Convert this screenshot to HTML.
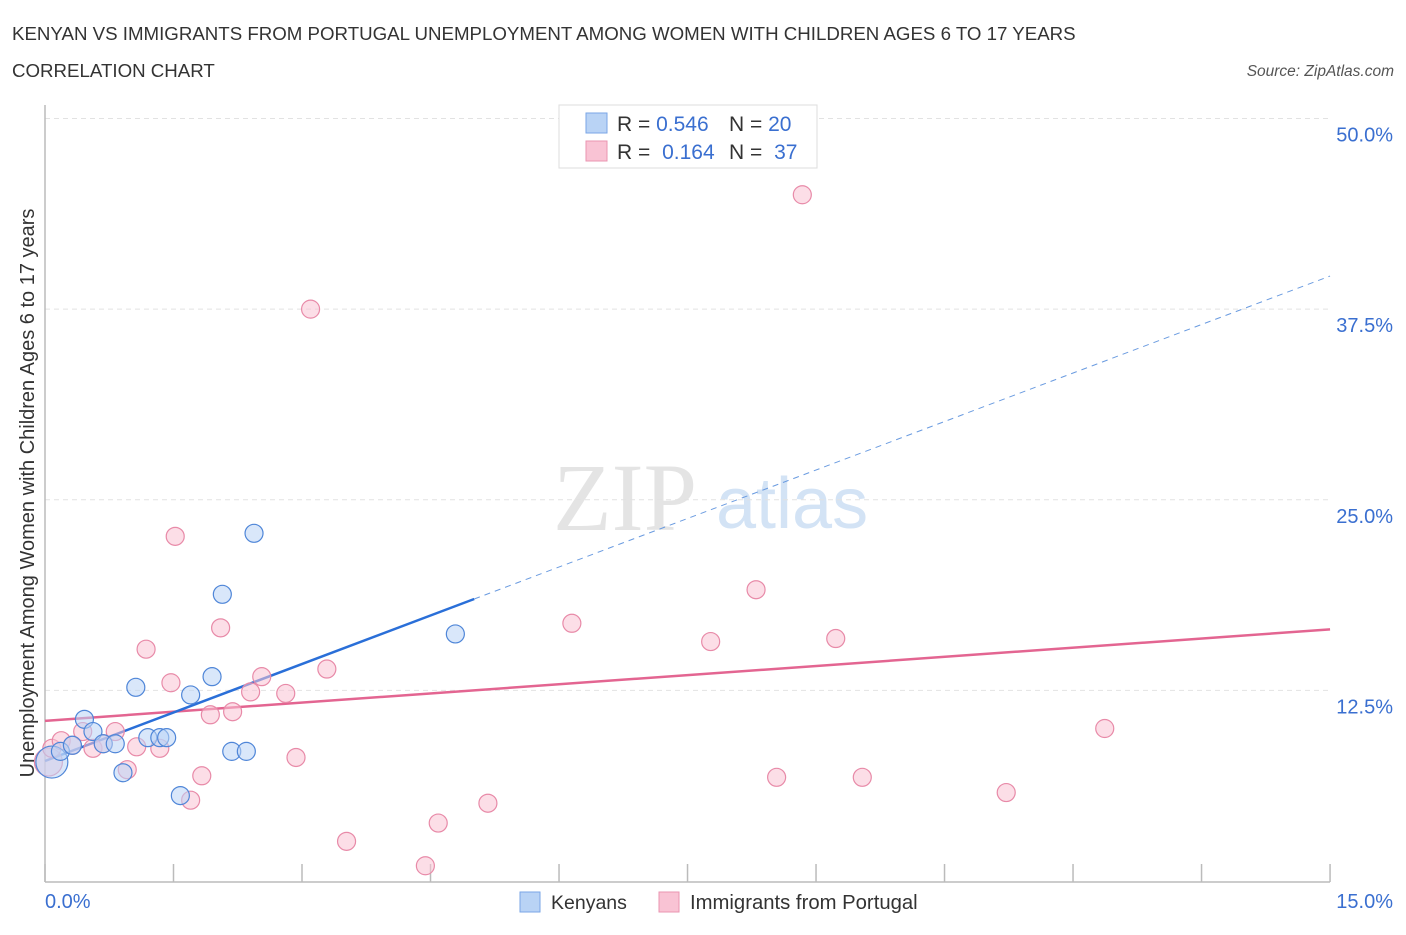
<!DOCTYPE html>
<html><head><meta charset="utf-8"><style>
body{margin:0;background:#fff;font-family:"Liberation Sans",sans-serif;}
svg text{font-family:"Liberation Sans",sans-serif;}
</style></head><body>
<svg id="chart" width="1406" height="930" xmlns="http://www.w3.org/2000/svg">
<text x="12" y="40" font-size="18.7" fill="#333">KENYAN VS IMMIGRANTS FROM PORTUGAL UNEMPLOYMENT AMONG WOMEN WITH CHILDREN AGES 6 TO 17 YEARS</text>
<text x="12" y="77" font-size="18.7" fill="#333">CORRELATION CHART</text>
<text x="1394" y="76" font-size="15.5" fill="#555" font-style="italic" text-anchor="end">Source: ZipAtlas.com</text>
<g>
<text x="553" y="530" font-size="96" fill="#e4e4e4" font-family="Liberation Serif" style="font-family:'Liberation Serif',serif">ZIP</text>
<text x="716" y="528" font-size="72" fill="#d3e3f5">atlas</text>
</g>
<g id="grid"></g>
<g id="axes"></g>
<g id="trends"></g>
<g id="points"></g>
<text transform="translate(34,493) rotate(-90)" font-size="20" fill="#333" text-anchor="middle">Unemployment Among Women with Children Ages 6 to 17 years</text>
<g>
<rect x="559" y="105" width="258" height="63" fill="#fff" stroke="#ddd"/>
<rect x="586" y="113" width="21" height="20" fill="#b9d3f5" stroke="#7aa6e6"/>
<rect x="586" y="141" width="21" height="20" fill="#f9c3d4" stroke="#ea95b1"/>
<text x="617" y="131" font-size="21" fill="#333">R = <tspan fill="#3a6fd0">0.546</tspan></text>
<text x="729" y="131" font-size="21" fill="#333">N = <tspan fill="#3a6fd0">20</tspan></text>
<text x="617" y="159" font-size="21" fill="#333">R = <tspan fill="#3a6fd0" dx="6">0.164</tspan></text>
<text x="729" y="159" font-size="21" fill="#333">N = <tspan fill="#3a6fd0" dx="6">37</tspan></text>
</g>
<g>
<rect x="520" y="892" width="20" height="20" fill="#b9d3f5" stroke="#7aa6e6"/>
<text x="551" y="909" font-size="19.5" fill="#333">Kenyans</text>
<rect x="659" y="892" width="20" height="20" fill="#f9c3d4" stroke="#ea95b1"/>
<text x="690" y="909" font-size="20.3" fill="#333">Immigrants from Portugal</text>
</g>
</svg>
<script>
const yTicks=[12.5,25,37.5,50];
const yTickLabels=["12.5%","25.0%","37.5%","50.0%"];
const xTicks=[0,1.5,3,4.5,6,7.5,9,10.5,12,13.5,15];
const kenX=[0.08,0.18,0.32,0.46,0.56,0.68,0.82,0.91,1.06,1.20,1.34,1.42,1.58,1.70,1.95,2.07,2.18,2.35,2.44,4.79];
const kenY=[7.8,8.5,8.9,10.6,9.8,9.0,9.0,7.1,12.7,9.4,9.4,9.4,5.6,12.2,13.4,18.8,8.5,8.5,22.8,16.2];
const porX=[0.04,0.08,0.19,0.32,0.44,0.56,0.68,0.82,0.96,1.07,1.18,1.34,1.47,1.52,1.70,1.83,1.93,2.05,2.19,2.40,2.53,2.81,2.93,3.10,3.29,3.52,4.44,4.59,5.17,6.15,7.77,8.30,8.54,8.84,9.23,9.54,11.22,12.37];
const porY=[7.8,8.7,9.2,8.9,9.8,8.7,9.0,9.8,7.3,8.8,15.2,8.7,13.0,22.6,5.3,6.9,10.9,16.6,11.1,12.4,13.4,12.3,8.1,37.5,13.9,2.6,1.0,3.8,5.1,16.9,15.7,19.1,6.8,45.0,15.9,6.8,5.8,10.0];
const kenTrend=[7.87,2.12];
const porTrend=[10.5,0.4];
const kenSolidEnd=5.01;
const NS="http://www.w3.org/2000/svg";
const X=v=>45+v*85.67, Y=v=>881-v*15.25;
function mk(tag,attrs,parent){const e=document.createElementNS(NS,tag);for(const k in attrs)e.setAttribute(k,attrs[k]);document.getElementById(parent).appendChild(e);return e;}
yTicks.forEach((t,i)=>{
 const l=mk('line',{x1:45,x2:1330,y1:Y(t),y2:Y(t),stroke:'#e2e2e2','stroke-dasharray':'5,4'},'grid');
 
 
 const tx=mk('text',{x:1393,y:Y(t)+23,'font-size':20,fill:'#3a6fd0','text-anchor':'end'},'grid');
 tx.textContent=yTickLabels[i];
 
 
});
let a=mk('line',{x1:45,x2:45,y1:105,y2:882,stroke:'#bbb','stroke-width':1.5},'axes');


a=mk('line',{x1:45,x2:1330,y1:882,y2:882,stroke:'#bbb','stroke-width':1.5},'axes');


xTicks.forEach(t=>{const l=mk('line',{x1:X(t),x2:X(t),y1:864,y2:882,stroke:'#bbb','stroke-width':1.5},'axes');
 
 });
let t1=mk('text',{x:45,y:908,'font-size':20,fill:'#3a6fd0'},'axes');t1.textContent='0.0%';


t1=mk('text',{x:1393,y:908,'font-size':20,fill:'#3a6fd0','text-anchor':'end'},'axes');t1.textContent='15.0%';


function dot(x,y,r,fill,stroke,name){const c=mk('circle',{cx:X(x),cy:Y(y),r:r,fill:fill,'fill-opacity':0.55,stroke:stroke,'stroke-width':1.2},'points');
 
 }
porX.forEach((x,i)=>dot(x,porY[i],i==0?14:9,'#f9c3d4','#e88aa8','portugal-point'));
kenX.forEach((x,i)=>dot(x,kenY[i],i==0?16:9,'#b9d3f5','#4f86d8','kenyan-point'));
let tl=mk('line',{x1:X(0),y1:Y(porTrend[0]),x2:X(15),y2:Y(porTrend[0]+porTrend[1]*15),stroke:'#e36591','stroke-width':2.5},'trends');


tl=mk('line',{x1:X(0),y1:Y(kenTrend[0]),x2:X(kenSolidEnd),y2:Y(kenTrend[0]+kenTrend[1]*kenSolidEnd),stroke:'#2a6fd8','stroke-width':2.5},'trends');


tl=mk('line',{x1:X(kenSolidEnd),y1:Y(kenTrend[0]+kenTrend[1]*kenSolidEnd),x2:X(15),y2:Y(kenTrend[0]+kenTrend[1]*15),stroke:'#6a9be0','stroke-width':1,'stroke-dasharray':'6,5'},'trends');


</script>
</body></html>
